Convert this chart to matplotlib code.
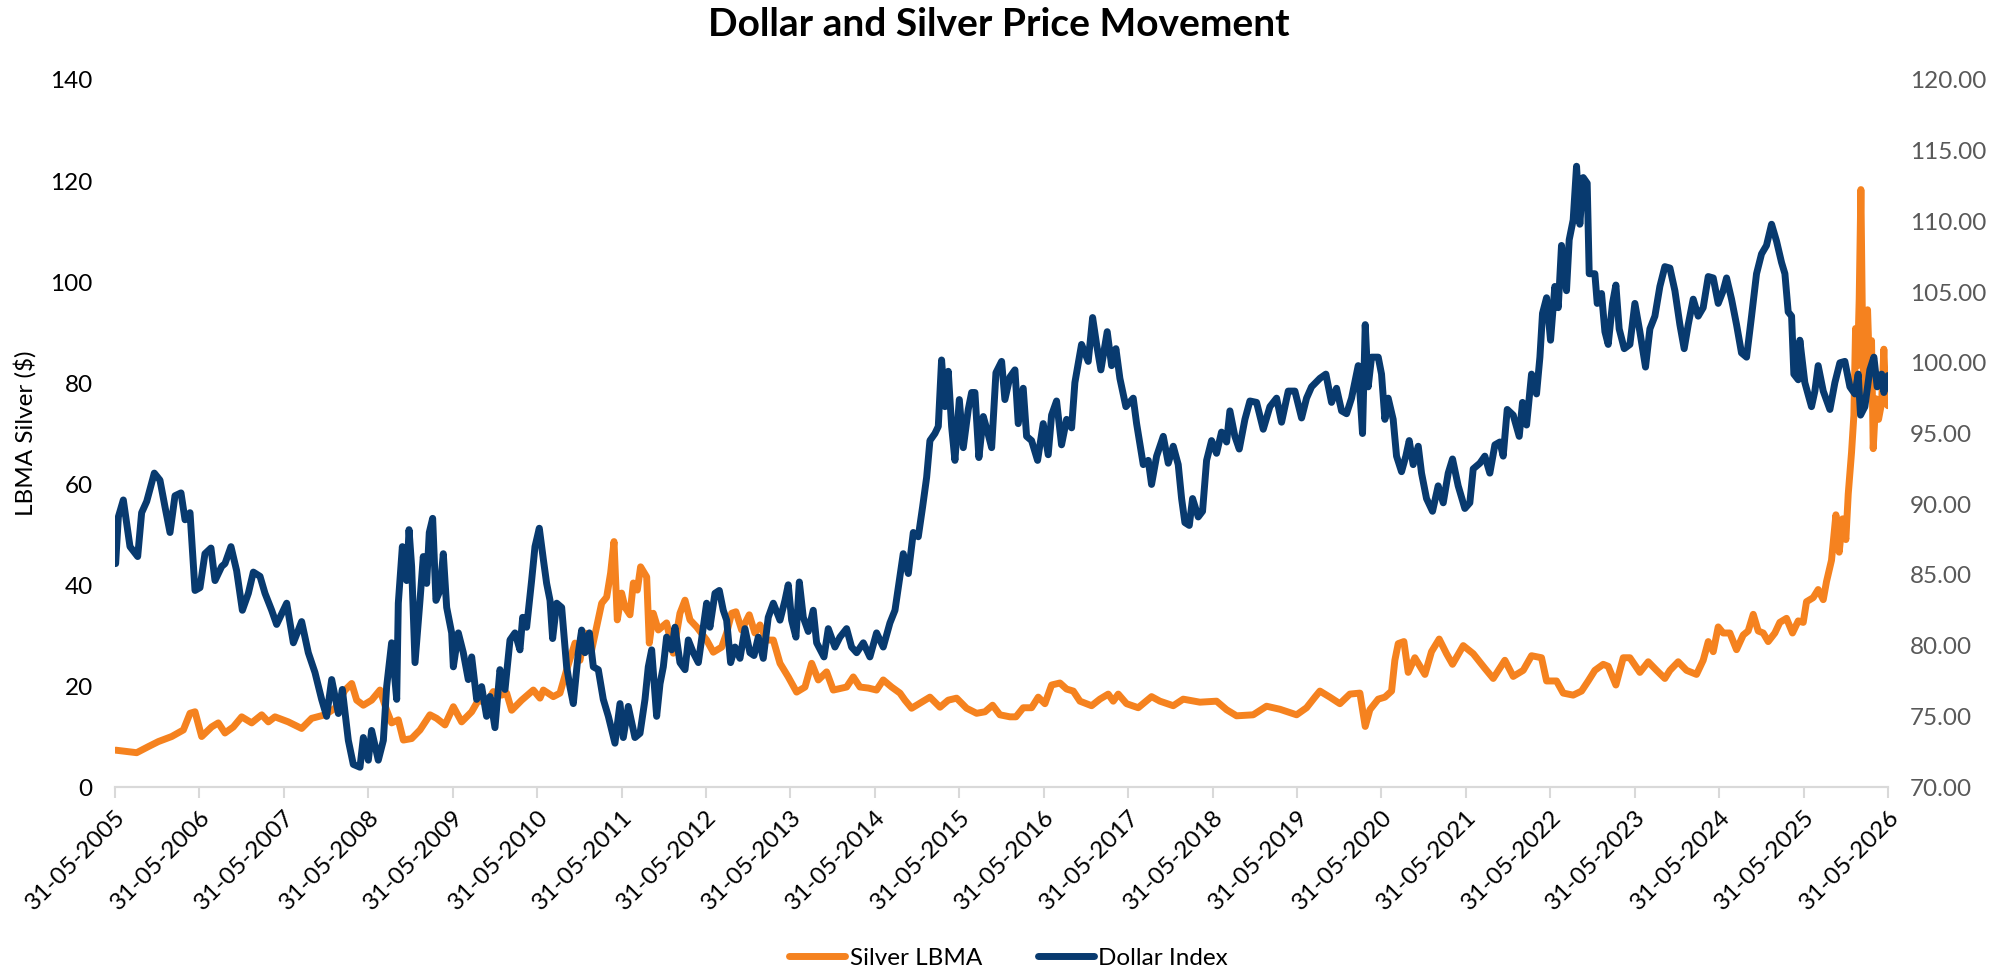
import matplotlib
matplotlib.use("Agg")
import matplotlib.pyplot as plt

# ---------------- data (x = decimal year) ----------------
dollar_year = [
    2005.421, 2005.453, 2005.512, 2005.591, 2005.682, 2005.729, 2005.789, 2005.879, 2005.946, 2006.006,
    2006.065, 2006.124, 2006.195, 2006.243, 2006.302, 2006.361, 2006.420, 2006.479, 2006.550, 2006.598,
    2006.677, 2006.716, 2006.787, 2006.854, 2006.922, 2006.993, 2007.052, 2007.131, 2007.190, 2007.269,
    2007.328, 2007.447, 2007.526, 2007.624, 2007.703, 2007.782, 2007.861, 2007.920, 2007.980, 2008.059,
    2008.106, 2008.177, 2008.236, 2008.315, 2008.355, 2008.414, 2008.453, 2008.532, 2008.592, 2008.631,
    2008.690, 2008.750, 2008.769, 2008.817, 2008.868, 2008.896, 2008.927, 2008.967, 2009.026, 2009.065,
    2009.105, 2009.136, 2009.176, 2009.215, 2009.263, 2009.302, 2009.342, 2009.401, 2009.421, 2009.480,
    2009.539, 2009.598, 2009.638, 2009.697, 2009.756, 2009.815, 2009.855, 2009.914, 2009.973, 2010.033,
    2010.092, 2010.151, 2010.210, 2010.242, 2010.289, 2010.348, 2010.388, 2010.439, 2010.487, 2010.526,
    2010.566, 2010.597, 2010.645, 2010.704, 2010.763, 2010.802, 2010.842, 2010.901, 2010.941, 2010.980,
    2011.032, 2011.079, 2011.138, 2011.197, 2011.257, 2011.335, 2011.395, 2011.434, 2011.493, 2011.572,
    2011.632, 2011.691, 2011.730, 2011.770, 2011.829, 2011.869, 2011.908, 2011.947, 2012.007, 2012.046,
    2012.105, 2012.165, 2012.204, 2012.263, 2012.323, 2012.381, 2012.421, 2012.460, 2012.520, 2012.571,
    2012.618, 2012.658, 2012.705, 2012.757, 2012.816, 2012.875, 2012.934, 2012.982, 2013.033, 2013.092,
    2013.151, 2013.211, 2013.290, 2013.349, 2013.388, 2013.428, 2013.479, 2013.519, 2013.566, 2013.625,
    2013.684, 2013.724, 2013.811, 2013.862, 2013.941, 2014.000, 2014.079, 2014.138, 2014.198, 2014.277,
    2014.355, 2014.434, 2014.513, 2014.592, 2014.652, 2014.691, 2014.750, 2014.810, 2014.869, 2014.928,
    2014.979, 2015.027, 2015.066, 2015.125, 2015.165, 2015.204, 2015.244, 2015.283, 2015.323, 2015.362,
    2015.414, 2015.461, 2015.520, 2015.560, 2015.599, 2015.646, 2015.698, 2015.745, 2015.797, 2015.848,
    2015.915, 2015.954, 2016.014, 2016.073, 2016.112, 2016.171, 2016.211, 2016.270, 2016.341, 2016.408,
    2016.467, 2016.507, 2016.566, 2016.625, 2016.685, 2016.744, 2016.783, 2016.862, 2016.941, 2016.993,
    2017.040, 2017.091, 2017.166, 2017.218, 2017.269, 2017.316, 2017.387, 2017.474, 2017.514, 2017.593,
    2017.652, 2017.691, 2017.751, 2017.830, 2017.889, 2017.948, 2018.007, 2018.047, 2018.086, 2018.138,
    2018.177, 2018.244, 2018.295, 2018.343, 2018.402, 2018.461, 2018.520, 2018.580, 2018.619, 2018.678,
    2018.730, 2018.797, 2018.856, 2018.935, 2019.014, 2019.093, 2019.172, 2019.231, 2019.310, 2019.389,
    2019.468, 2019.527, 2019.586, 2019.685, 2019.756, 2019.823, 2019.882, 2019.942, 2020.001, 2020.060,
    2020.139, 2020.190, 2020.222, 2020.257, 2020.297, 2020.376, 2020.415, 2020.455, 2020.494, 2020.553,
    2020.593, 2020.652, 2020.703, 2020.743, 2020.790, 2020.850, 2020.889, 2020.948, 2021.019, 2021.086,
    2021.146, 2021.205, 2021.256, 2021.323, 2021.402, 2021.461, 2021.501, 2021.580, 2021.639, 2021.698,
    2021.758, 2021.817, 2021.856, 2021.904, 2021.975, 2022.046, 2022.085, 2022.133, 2022.192, 2022.251,
    2022.291, 2022.322, 2022.370, 2022.417, 2022.468, 2022.508, 2022.547, 2022.606, 2022.638, 2022.685,
    2022.725, 2022.764, 2022.804, 2022.851, 2022.875, 2022.942, 2022.970, 2023.021, 2023.061, 2023.100,
    2023.151, 2023.191, 2023.230, 2023.290, 2023.357, 2023.416, 2023.475, 2023.542, 2023.594, 2023.653,
    2023.712, 2023.771, 2023.831, 2023.890, 2023.949, 2024.000, 2024.048, 2024.107, 2024.166, 2024.225,
    2024.285, 2024.344, 2024.403, 2024.462, 2024.502, 2024.561, 2024.620, 2024.679, 2024.739, 2024.798,
    2024.857, 2024.916, 2024.975, 2025.035, 2025.094, 2025.153, 2025.193, 2025.232, 2025.272, 2025.299,
    2025.351, 2025.370, 2025.429, 2025.508, 2025.548, 2025.587, 2025.647, 2025.726, 2025.785, 2025.844,
    2025.903, 2025.963, 2026.022, 2026.061, 2026.089, 2026.140, 2026.199, 2026.247, 2026.286, 2026.338,
    2026.365, 2026.413,
]
dollar_index = [
    85.8, 89.1, 90.3, 87.0, 86.3, 89.4, 90.2, 92.2, 91.7, 89.8,
    88.0, 90.6, 90.8, 88.9, 89.4, 83.9, 84.1, 86.5, 86.9, 84.6,
    85.6, 85.8, 87.0, 85.3, 82.5, 83.7, 85.2, 84.9, 83.7, 82.5,
    81.5, 83.0, 80.2, 81.7, 79.5, 78.1, 76.2, 75.0, 77.6, 75.2,
    76.9, 73.3, 71.6, 71.4, 73.5, 71.9, 74.0, 71.9, 73.3, 77.1,
    80.2, 76.2, 83.0, 87.0, 84.6, 88.2, 85.6, 78.8, 83.2, 86.3,
    84.4, 88.0, 89.0, 83.2, 83.9, 86.5, 82.7, 80.9, 78.5, 80.9,
    79.5, 77.6, 79.2, 76.2, 77.1, 75.0, 76.4, 74.2, 78.3, 76.9,
    80.4, 80.9, 79.7, 82.0, 81.3, 84.6, 87.0, 88.3, 86.1, 84.4,
    83.2, 80.5, 83.0, 82.7, 78.5, 77.1, 75.9, 79.5, 81.1, 79.5,
    80.9, 78.5, 78.3, 76.2, 75.0, 73.1, 75.9, 73.5, 75.7, 73.5,
    73.8, 76.2, 78.5, 79.7, 75.0, 77.3, 78.5, 80.6, 79.7, 81.3,
    78.8, 78.3, 80.4, 79.5, 78.8, 81.3, 83.0, 81.3, 83.7, 83.9,
    82.5, 81.8, 78.8, 79.9, 79.1, 81.2, 79.5, 79.3, 80.6, 79.1,
    82.0, 83.0, 81.8, 83.2, 84.3, 81.8, 80.6, 84.5, 82.0, 81.0,
    82.5, 80.2, 79.2, 81.2, 79.9, 80.6, 81.2, 79.9, 79.5, 80.2,
    79.2, 80.9, 79.9, 81.6, 82.5, 84.1, 86.5, 85.1, 88.0, 87.7,
    89.8, 91.9, 94.5, 95.0, 95.5, 100.2, 96.9, 99.4, 95.5, 93.1,
    97.4, 94.0, 96.7, 97.9, 97.9, 93.3, 96.2, 95.2, 94.0, 99.3,
    100.1, 97.4, 99.0, 99.5, 95.7, 98.2, 94.8, 94.5, 93.1, 95.7,
    93.5, 96.3, 97.3, 94.2, 96.0, 95.4, 98.6, 101.3, 100.1, 103.2,
    101.3, 99.5, 102.2, 99.8, 101.0, 98.9, 96.9, 97.5, 95.7, 92.8,
    93.1, 91.4, 93.4, 94.8, 92.9, 94.1, 92.8, 90.4, 88.7, 88.5,
    90.4, 89.1, 89.5, 93.1, 94.5, 93.6, 95.1, 94.4, 96.6, 94.8,
    93.9, 96.0, 97.3, 97.2, 95.3, 96.9, 97.5, 95.8, 98.0, 98.0,
    96.1, 97.5, 98.3, 98.9, 99.2, 97.2, 98.2, 96.6, 96.4, 97.5,
    99.8, 95.0, 102.7, 98.3, 100.4, 100.4, 99.2, 96.0, 97.5, 96.0,
    93.4, 92.3, 93.4, 94.5, 92.8, 94.1, 92.2, 90.4, 89.5, 91.3,
    90.1, 92.2, 93.2, 91.3, 89.7, 90.1, 92.5, 92.9, 93.4, 92.2,
    94.2, 94.4, 93.4, 96.7, 96.3, 94.8, 97.2, 95.6, 99.2, 97.8,
    100.4, 103.5, 104.6, 101.6, 105.4, 103.9, 108.3, 105.1, 108.7, 110.1,
    113.9, 109.8, 113.1, 112.7, 106.3, 106.3, 104.2, 104.9, 102.2, 101.3,
    104.2, 105.5, 102.4, 101.0, 101.3, 104.2, 102.2, 99.7, 102.4, 103.3,
    105.4, 106.8, 106.7, 105.1, 102.7, 101.0, 102.7, 104.5, 103.3, 103.9,
    106.1, 106.0, 104.2, 105.1, 106.0, 104.5, 102.7, 100.7, 100.4, 103.3,
    106.3, 107.7, 108.3, 109.8, 108.6, 107.1, 106.3, 103.6, 103.3, 99.2,
    98.8, 101.6, 98.6, 96.9, 98.0, 99.8, 98.0, 96.7, 98.6, 100.0,
    100.1, 98.3, 97.8, 99.2, 96.3, 96.9, 99.5, 100.4, 98.3, 99.2,
    97.9, 99.1,
]

silver_year = [
    2005.421, 2005.670, 2005.808, 2005.927, 2006.085, 2006.223, 2006.302, 2006.361, 2006.440, 2006.558,
    2006.637, 2006.716, 2006.815, 2006.914, 2007.032, 2007.151, 2007.230, 2007.308, 2007.466, 2007.624,
    2007.743, 2007.901, 2008.019, 2008.138, 2008.217, 2008.276, 2008.355, 2008.453, 2008.552, 2008.631,
    2008.690, 2008.769, 2008.829, 2008.927, 2009.026, 2009.144, 2009.223, 2009.322, 2009.421, 2009.519,
    2009.638, 2009.717, 2009.815, 2009.894, 2009.993, 2010.052, 2010.112, 2010.230, 2010.368, 2010.447,
    2010.487, 2010.605, 2010.684, 2010.763, 2010.862, 2010.921, 2010.980, 2011.059, 2011.118, 2011.178,
    2011.237, 2011.284, 2011.324, 2011.363, 2011.414, 2011.454, 2011.513, 2011.553, 2011.600, 2011.639,
    2011.711, 2011.742, 2011.789, 2011.849, 2011.947, 2012.026, 2012.105, 2012.165, 2012.224, 2012.303,
    2012.421, 2012.500, 2012.599, 2012.658, 2012.717, 2012.768, 2012.836, 2012.926, 2012.993, 2013.053,
    2013.132, 2013.211, 2013.290, 2013.388, 2013.487, 2013.586, 2013.665, 2013.744, 2013.842, 2013.921,
    2014.079, 2014.158, 2014.237, 2014.336, 2014.434, 2014.513, 2014.612, 2014.711, 2014.770, 2014.849,
    2014.948, 2015.066, 2015.185, 2015.283, 2015.382, 2015.500, 2015.619, 2015.718, 2015.808, 2015.895,
    2016.014, 2016.085, 2016.171, 2016.270, 2016.349, 2016.428, 2016.507, 2016.606, 2016.685, 2016.764,
    2016.843, 2016.981, 2017.079, 2017.178, 2017.237, 2017.297, 2017.395, 2017.533, 2017.691, 2017.790,
    2017.948, 2018.066, 2018.264, 2018.461, 2018.580, 2018.698, 2018.895, 2019.053, 2019.211, 2019.409,
    2019.527, 2019.626, 2019.685, 2019.803, 2019.922, 2020.040, 2020.159, 2020.222, 2020.277, 2020.376,
    2020.455, 2020.534, 2020.573, 2020.613, 2020.680, 2020.731, 2020.810, 2020.929, 2021.007, 2021.098,
    2021.185, 2021.256, 2021.383, 2021.501, 2021.639, 2021.738, 2021.876, 2021.975, 2022.093, 2022.192,
    2022.310, 2022.370, 2022.488, 2022.567, 2022.685, 2022.784, 2022.863, 2022.942, 2023.041, 2023.100,
    2023.191, 2023.278, 2023.357, 2023.475, 2023.574, 2023.673, 2023.771, 2023.831, 2023.929, 2024.028,
    2024.146, 2024.225, 2024.285, 2024.344, 2024.403, 2024.462, 2024.541, 2024.620, 2024.699, 2024.758,
    2024.818, 2024.877, 2024.936, 2024.995, 2025.074, 2025.133, 2025.212, 2025.283, 2025.351, 2025.410,
    2025.449, 2025.528, 2025.587, 2025.647, 2025.686, 2025.745, 2025.797, 2025.836, 2025.876, 2025.915,
    2025.943, 2025.982, 2026.010, 2026.030, 2026.053, 2026.073, 2026.093, 2026.112, 2026.132, 2026.152,
    2026.172, 2026.199, 2026.219, 2026.239, 2026.270, 2026.302, 2026.338, 2026.365, 2026.389, 2026.413,
]
silver_price = [
    7.3, 6.8, 8.0, 9.0, 10.0, 11.3, 14.6, 14.9, 10.0, 11.9,
    12.7, 10.7, 11.9, 13.9, 12.7, 14.3, 12.9, 13.9, 12.9, 11.6,
    13.6, 14.3, 15.6, 19.2, 20.5, 17.2, 16.2, 17.2, 19.2, 15.2,
    12.7, 13.3, 9.3, 9.6, 11.3, 14.3, 13.6, 12.3, 15.9, 12.9,
    14.9, 17.2, 16.6, 18.9, 18.2, 18.6, 15.2, 17.2, 19.2, 17.6,
    19.2, 17.9, 18.6, 23.2, 28.5, 25.1, 30.5, 27.1, 31.7, 36.4,
    37.6, 42.4, 48.6, 33.1, 38.4, 35.6, 34.1, 40.4, 39.0, 43.6,
    41.6, 28.5, 34.4, 31.1, 32.5, 26.5, 34.4, 37.0, 33.1, 31.7,
    29.1, 26.7, 27.7, 30.5, 34.4, 34.7, 31.1, 34.1, 30.5, 32.1,
    29.1, 29.1, 24.5, 21.8, 18.8, 19.8, 24.5, 21.2, 22.8, 19.2,
    19.8, 21.8, 19.8, 19.6, 19.2, 21.2, 19.8, 18.6, 17.2, 15.6,
    16.6, 17.8, 15.8, 17.2, 17.6, 15.6, 14.6, 14.9, 16.2, 14.3,
    13.9, 13.9, 15.7, 15.7, 17.8, 16.5, 20.2, 20.6, 19.4, 19.0,
    17.0, 16.1, 17.4, 18.4, 17.0, 18.4, 16.5, 15.7, 17.9, 17.0,
    16.1, 17.4, 16.8, 17.0, 15.3, 14.1, 14.3, 16.0, 15.4, 14.3,
    15.7, 17.8, 19.0, 17.8, 16.5, 18.4, 18.6, 12.0, 15.3, 17.4,
    17.8, 19.0, 25.1, 28.4, 28.8, 22.7, 25.6, 22.3, 26.8, 29.3,
    26.4, 24.3, 28.0, 26.4, 23.5, 21.5, 25.1, 21.9, 23.1, 26.0,
    25.6, 21.0, 21.0, 18.6, 18.2, 19.0, 21.0, 23.1, 24.3, 23.9,
    20.2, 25.6, 25.6, 22.7, 24.8, 23.1, 21.5, 23.1, 24.8, 23.1,
    22.3, 25.1, 28.8, 26.8, 31.7, 30.5, 30.5, 27.2, 30.1, 30.9,
    34.2, 30.9, 30.5, 28.8, 30.5, 32.6, 33.4, 30.5, 32.9, 32.6,
    36.7, 37.5, 39.1, 37.1, 40.7, 44.9, 53.9, 46.5, 53.1, 49.0,
    58.0, 66.2, 73.6, 90.8, 83.4, 96.6, 118.3, 90.8, 75.2, 89.2,
    94.5, 80.2, 88.4, 67.0, 76.9, 72.8, 76.0, 86.7, 76.0, 75.5,
]

x_tick_years = list(range(2005, 2027))
x_tick_labels = ["31-05-%d" % y for y in x_tick_years]
left_ticks = [0, 20, 40, 60, 80, 100, 120, 140]
right_ticks = [70, 75, 80, 85, 90, 95, 100, 105, 110, 115, 120]

# ---------------- styling ----------------
FONT = ["Lato", "DejaVu Sans"]
plt.rcParams["font.family"] = FONT
ORANGE = "#F5821F"
NAVY = "#083A6F"
GRID_GRAY = "#D9D9D9"

fig = plt.figure(figsize=(19.97, 9.72), dpi=100)
ax = fig.add_axes([0.0576, 0.1903, 0.8878, 0.7274])
ax2 = ax.twinx()

l1, = ax.plot(silver_year, silver_price, color=ORANGE, lw=5,
              solid_joinstyle="round", solid_capstyle="round", label="Silver LBMA")
l2, = ax2.plot(dollar_year, dollar_index, color=NAVY, lw=5,
               solid_joinstyle="round", solid_capstyle="round", label="Dollar Index")

x_start = 2005 + 151 / 365.0
ax.set_xlim(x_start, x_start + 21)
ax.set_ylim(0, 140)
ax2.set_ylim(70, 120)

tick_pos = [x_start + (y - 2005) for y in x_tick_years]
ax.set_xticks(tick_pos)
ax.set_xticklabels(x_tick_labels, rotation=45, ha="right", va="top",
                   rotation_mode="anchor", fontsize=17.5, color="black")
ax.tick_params(axis="x", length=8, width=1.5, color=GRID_GRAY, pad=6)

ax.set_yticks(left_ticks)
ax.set_yticklabels([str(v) for v in left_ticks], fontsize=17.5, color="black")
ax.tick_params(axis="y", length=0, pad=16)

ax2.set_yticks(right_ticks)
ax2.set_yticklabels(["%.2f" % v for v in right_ticks], fontsize=17.5, color="#595959")
ax2.tick_params(axis="y", length=0, pad=16)

for a in (ax, ax2):
    for s in ("top", "left", "right"):
        a.spines[s].set_visible(False)
    a.spines["bottom"].set_color(GRID_GRAY)
    a.spines["bottom"].set_linewidth(1.5)

ax.set_ylabel("LBMA Silver ($)", fontsize=17.5, labelpad=10)

fig.suptitle("Dollar and Silver Price Movement", fontsize=28, fontweight="bold",
             y=0.975, va="center")

fig.legend(handles=[l1, l2], loc="center", bbox_to_anchor=(0.505, 0.0144), ncol=2,
           frameon=False, fontsize=17.5, handlelength=2.3, handletextpad=0.2,
           columnspacing=2.3)

fig.savefig("out.png", dpi=100)
